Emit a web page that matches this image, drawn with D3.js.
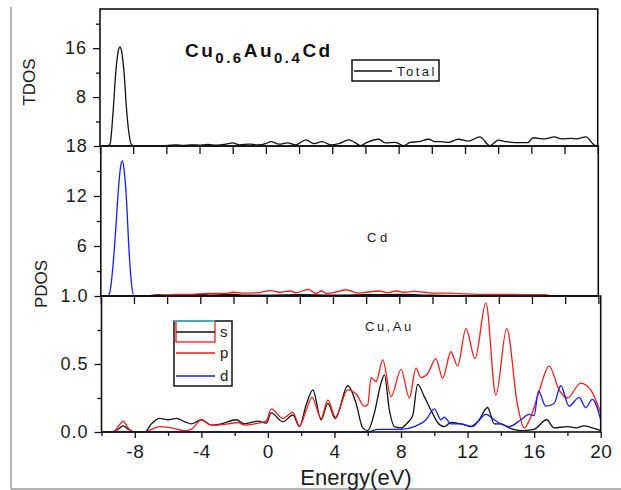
<!DOCTYPE html>
<html>
<head>
<meta charset="utf-8">
<script src="https://cdn.jsdelivr.net/npm/d3@7"></script>
<style>
body{margin:0;background:#fff;}
svg{display:block;font-family:"Liberation Sans",Arial,sans-serif;}
</style>
</head>
<body>
<svg id="chart" width="621" height="490"></svg>
<script>
// energy (eV), dos value
var totalDos = [[-10,0],[-9.6,0],[-9.4,0.3],[-9.2,6],[-9.05,12],[-8.9,15.5],[-8.8,16.2],[-8.7,15.5],[-8.55,12],[-8.4,6],[-8.25,2],[-8.1,0.2],[-7.9,0],[-7,0],[-6.0,0.05],[-5.4,0.2],[-5.0,0.1],[-4.5,0.2],[-4.0,0.15],[-3.5,0.25],[-3.0,0.15],[-2.4,0.3],[-2.0,0.5],[-1.6,0.2],[-1.0,0.3],[-0.5,0.2],[0,0.4],[0.3,0.7],[0.8,0.3],[1.3,0.5],[1.8,0.2],[2.4,1.0],[2.9,0.4],[3.4,0.7],[3.9,0.2],[4.4,0.4],[5.0,1.0],[5.4,0.5],[5.7,0.05],[6.1,0.6],[6.8,1.1],[7.2,0.5],[7.8,0.6],[8.3,0.05],[8.7,0.6],[9.2,0.7],[9.8,1.1],[10.2,0.7],[10.6,0.7],[11.0,0.6],[11.6,1.1],[12.2,0.8],[12.9,1.5],[13.5,0.05],[14.0,0.95],[14.5,0.7],[15.0,0.55],[15.8,0.55],[16.1,1.35],[16.8,1.15],[17.4,1.5],[17.8,1.15],[18.4,1.25],[18.7,1.15],[19.3,1.5],[19.8,0.15],[20,0]];

var cdS = [[-10,0],[-8,0],[-7.0,0.05],[-6.5,0.15],[-6.0,0.05],[-4.5,0.15],[-4,0.2],[-3.5,0.1],[-2.0,0.2],[-1.5,0.1],[0,0.1],[2,0.15],[4,0.1],[6,0.15],[8,0.2],[10,0.1],[12,0.05],[14,0.1],[15.5,0.15],[16.5,0.1],[17,0],[20,0]];
var cdP = [[-10,0],[-8,0],[-6.5,0.1],[-5.5,0.2],[-4.5,0.2],[-3.5,0.3],[-2.5,0.3],[-2.0,0.45],[-1.5,0.35],[-0.5,0.4],[0.2,0.65],[0.8,0.45],[1.4,0.6],[1.8,0.4],[2.5,0.8],[3.0,0.3],[3.3,0.6],[3.6,0.3],[4.0,0.4],[4.8,0.75],[5.5,0.35],[6.0,0.45],[6.8,0.6],[7.3,0.4],[7.8,0.6],[8.3,0.45],[8.9,0.55],[9.5,0.45],[10.2,0.35],[11.0,0.35],[12.0,0.25],[13.0,0.2],[14.0,0.2],[15.0,0.2],[16.0,0.15],[16.8,0.15],[17.2,0.02],[20,0.02]];
var cdD = [[-10,0],[-9.6,0],[-9.45,0.5],[-9.25,4],[-9.1,8],[-8.95,12.5],[-8.8,15.6],[-8.7,16.2],[-8.6,15.2],[-8.45,11.5],[-8.3,5.5],[-8.15,1.5],[-8.0,0],[20,0]];

var cuS = [[-10,0],[-9.4,0],[-9.0,0.02],[-8.7,0.045],[-8.4,0.02],[-8.0,0],[-7.4,0],[-7.0,0.06],[-6.5,0.10],[-6.0,0.09],[-5.5,0.10],[-5.0,0.075],[-4.6,0.06],[-4.0,0.09],[-3.4,0.05],[-2.8,0.06],[-1.9,0.09],[-1.4,0.06],[-0.6,0.08],[-0.1,0.065],[0.2,0.14],[0.9,0.075],[1.5,0.125],[1.9,0.04],[2.3,0.2],[2.7,0.31],[3.2,0.09],[3.6,0.21],[4.05,0.10],[4.8,0.34],[5.3,0.21],[5.7,0.03],[6.0,0.01],[6.4,0.14],[6.8,0.36],[7.0,0.42],[7.3,0.16],[7.6,0.04],[8.0,0.03],[8.4,0.07],[8.7,0.12],[9.0,0.35],[9.4,0.26],[9.8,0.16],[10.2,0.07],[10.6,0.04],[11.0,0.07],[11.6,0.06],[12.3,0.04],[12.7,0.09],[13.2,0.18],[13.6,0.06],[14.0,0.06],[14.5,0.03],[15.2,0.01],[16.0,0.02],[16.75,0.09],[17.2,0.03],[18.0,0.04],[18.5,0.03],[19.0,0.045],[19.5,0.03],[20,0.01]];
var cuP = [[-10,0],[-9.3,0],[-9.0,0.04],[-8.7,0.08],[-8.4,0.03],[-8.1,0],[-7.4,0],[-7.0,0.02],[-6.5,0.04],[-5.8,0.03],[-5.0,0.01],[-4.6,0.02],[-4.0,0.09],[-3.4,0.05],[-2.4,0.06],[-1.8,0.07],[-1.4,0.05],[-0.8,0.06],[-0.1,0.08],[0.2,0.17],[0.9,0.10],[1.5,0.145],[1.9,0.045],[2.3,0.16],[2.65,0.255],[3.2,0.10],[3.6,0.235],[4.05,0.11],[4.8,0.31],[5.3,0.28],[5.8,0.19],[6.0,0.2],[6.2,0.40],[6.5,0.37],[6.9,0.53],[7.4,0.26],[8.0,0.46],[8.5,0.25],[8.9,0.47],[9.2,0.40],[9.6,0.43],[10.1,0.54],[10.5,0.395],[11.0,0.59],[11.4,0.485],[11.9,0.76],[12.45,0.54],[13.1,0.95],[13.7,0.27],[14.35,0.76],[15.0,0.2],[15.4,0.03],[15.8,0.11],[16.3,0.30],[16.9,0.485],[17.5,0.31],[18.0,0.25],[18.8,0.36],[19.4,0.31],[20,0.14]];
var cuD = [[-10,0],[6.0,0],[6.6,0.02],[8.0,0.02],[8.8,0.04],[9.5,0.09],[10.0,0.17],[10.4,0.09],[10.6,0.11],[11.0,0.06],[11.6,0.06],[12.2,0.04],[12.6,0.075],[13.1,0.13],[13.6,0.09],[14.0,0.06],[14.5,0.04],[15.2,0.09],[15.7,0.13],[16.0,0.12],[16.26,0.30],[16.7,0.19],[17.2,0.21],[17.6,0.34],[18.1,0.19],[18.7,0.255],[19.1,0.18],[19.5,0.24],[20,0.09]];

var xMajor = [-8,-4,0,4,8,12,16,20];
var xMinor = [-10,-6,-2,2,6,10,14,18];
var topTicks = [8,16], topTickLabels = ["8","16"], topMinor = [4,12,20];
var midTicks = [6,12,18], midTickLabels = ["6","12","18"], midMinor = [3,9,15];
var botTicks = [0,0.5,1.0], botTickLabels = ["0.0","0.5","1.0"], botMinor = [0.25,0.75];
var legendNames = ["s","p","d"];

var RED = "#ff1a1a", BLUE = "#1a1aff", BLACK = "#111";
var svg = d3.select("#chart");

// outer gray frame
svg.append("line").attr("x1",11).attr("y1",7).attr("x2",11).attr("y2",489).attr("stroke","#9a9a9a").attr("stroke-width",1.5);
svg.append("line").attr("x1",11).attr("y1",489).attr("x2",621).attr("y2",489).attr("stroke","#9a9a9a").attr("stroke-width",1.5);

var DrawPanel = function(p){
    var x = d3.scaleLinear().domain([-10,20]).range([p.x0,p.x1]);
    var y = d3.scaleLinear().domain(p.yDomain).range([p.y1,p.y0]);
    var g = svg.append("g");

    var line = d3.line().x(function(d){return x(d[0]);}).y(function(d){return y(d[1]);}).curve(d3.curveMonotoneX);
    p.series.forEach(function(s){
        g.append("path").attr("d",line(s.data)).attr("fill","none").attr("stroke",s.color).attr("stroke-width",1.3);
    });

    // y axis
    var ya = g.append("g").attr("transform","translate("+p.x0+",0)")
        .call(d3.axisLeft(y).tickValues(p.ticks).tickSize(7).tickPadding(6)
            .tickFormat(function(d,i){return p.tickLabels[i];}));
    var ym = g.append("g").attr("transform","translate("+p.x0+",0)")
        .call(d3.axisLeft(y).tickValues(p.minor).tickSize(4).tickFormat(""));
    [ya,ym].forEach(function(a){
        a.select(".domain").remove();
        a.selectAll("line").attr("stroke",BLACK).attr("stroke-width",1.3);
        a.selectAll("text").attr("font-size",18).attr("letter-spacing",1).attr("fill","#1c1c1c");
    });

    // x ticks
    if(p.labels){
        var xa = g.append("g").attr("transform","translate(0,"+p.y1+")")
            .call(d3.axisBottom(x).tickValues(xMajor).tickSize(6).tickPadding(7).tickFormat(function(d){return String(d);}));
        var xm = g.append("g").attr("transform","translate(0,"+p.y1+")")
            .call(d3.axisBottom(x).tickValues(xMinor).tickSize(4).tickFormat(""));
        [xa,xm].forEach(function(a){
            a.select(".domain").remove();
            a.selectAll("line").attr("stroke",BLACK).attr("stroke-width",1.3);
            a.selectAll("text").attr("font-size",19).attr("letter-spacing",0.5).attr("fill","#1c1c1c");
        });
    }else{
        var xt = g.append("g").attr("transform","translate(0,"+p.y1+")")
            .call(d3.axisBottom(x).tickValues(xMajor.concat(xMinor)).tickSize(8).tickFormat(""));
        xt.select(".domain").remove();
        xt.selectAll("line").attr("stroke",BLACK).attr("stroke-width",1.3);
    }

    g.append("rect").attr("x",p.x0).attr("y",p.y0).attr("width",p.x1-p.x0).attr("height",p.y1-p.y0)
        .attr("fill","none").attr("stroke",BLACK).attr("stroke-width",1.6);
    return {x:x,y:y,g:g};
};

DrawPanel({x0:100,x1:597.7,y0:9,y1:146,yDomain:[0,22.4],ticks:topTicks,tickLabels:topTickLabels,minor:topMinor,
    series:[{data:totalDos,color:BLACK}]});
DrawPanel({x0:100.8,x1:598.3,y0:146,y1:296,yDomain:[0,18],ticks:midTicks,tickLabels:midTickLabels,minor:midMinor,
    series:[{data:cdS,color:BLACK},{data:cdP,color:RED},{data:cdD,color:BLUE}]});
DrawPanel({x0:101.5,x1:600.7,y0:296,y1:432,yDomain:[0,1],ticks:botTicks,tickLabels:botTickLabels,minor:botMinor,labels:true,
    series:[{data:cuS,color:BLACK},{data:cuP,color:RED},{data:cuD,color:BLUE}]});

// axis titles
svg.append("text").attr("transform","translate(35,82) rotate(-90)").attr("text-anchor","middle")
    .attr("font-size",17).attr("fill","#1c1c1c").text("TDOS");
svg.append("text").attr("transform","translate(47,284) rotate(-90)").attr("text-anchor","middle")
    .attr("font-size",17).attr("fill","#1c1c1c").text("PDOS");
svg.append("text").attr("x",356).attr("y",485).attr("text-anchor","middle")
    .attr("font-size",22).attr("fill","#1c1c1c").text("Energy(eV)");

// compound title
var title = svg.append("text").attr("x",185).attr("y",57).attr("font-size",19).attr("font-weight","bold")
    .attr("letter-spacing",2.5).attr("fill","#111");
title.append("tspan").text("Cu");
title.append("tspan").attr("font-size",15).attr("dy",6).text("0.6");
title.append("tspan").attr("dy",-6).text("Au");
title.append("tspan").attr("font-size",15).attr("dy",6).text("0.4");
title.append("tspan").attr("dy",-6).text("Cd");

// Total legend
svg.append("rect").attr("x",352).attr("y",60).attr("width",87).attr("height",21).attr("fill","#fff")
    .attr("stroke",BLACK).attr("stroke-width",1.5);
svg.append("line").attr("x1",354).attr("y1",71).attr("x2",392).attr("y2",71).attr("stroke",BLACK).attr("stroke-width",1.3);
svg.append("text").attr("x",397).attr("y",76).attr("font-size",13).attr("letter-spacing",2.5).attr("fill","#1c1c1c").text("Total");

// panel labels
svg.append("text").attr("x",367).attr("y",242).attr("font-size",13).attr("letter-spacing",3.5).attr("fill","#1c1c1c").text("Cd");
svg.append("text").attr("x",365).attr("y",331).attr("font-size",13).attr("letter-spacing",2.5).attr("fill","#1c1c1c").text("Cu,Au");

// s/p/d legend
var lg = svg.append("g");
lg.append("rect").attr("x",174).attr("y",321).attr("width",58).attr("height",65).attr("fill","#fff")
    .attr("stroke",BLACK).attr("stroke-width",1.5);
lg.append("rect").attr("x",176).attr("y",321).attr("width",39).attr("height",21).attr("fill","none")
    .attr("stroke",RED).attr("stroke-width",1.3);
lg.append("line").attr("x1",174).attr("y1",321).attr("x2",215).attr("y2",321).attr("stroke","#22d8e0").attr("stroke-width",1.5);
var legendY = [332,353,376], legendColor = [BLACK,RED,BLUE];
legendNames.forEach(function(n,i){
    lg.append("line").attr("x1",176).attr("y1",legendY[i]).attr("x2",215).attr("y2",legendY[i])
        .attr("stroke",legendColor[i]).attr("stroke-width",1.3);
    lg.append("text").attr("x",220).attr("y",legendY[i]+5).attr("font-size",15).attr("fill","#1c1c1c").text(n);
});
</script>
</body>
</html>
